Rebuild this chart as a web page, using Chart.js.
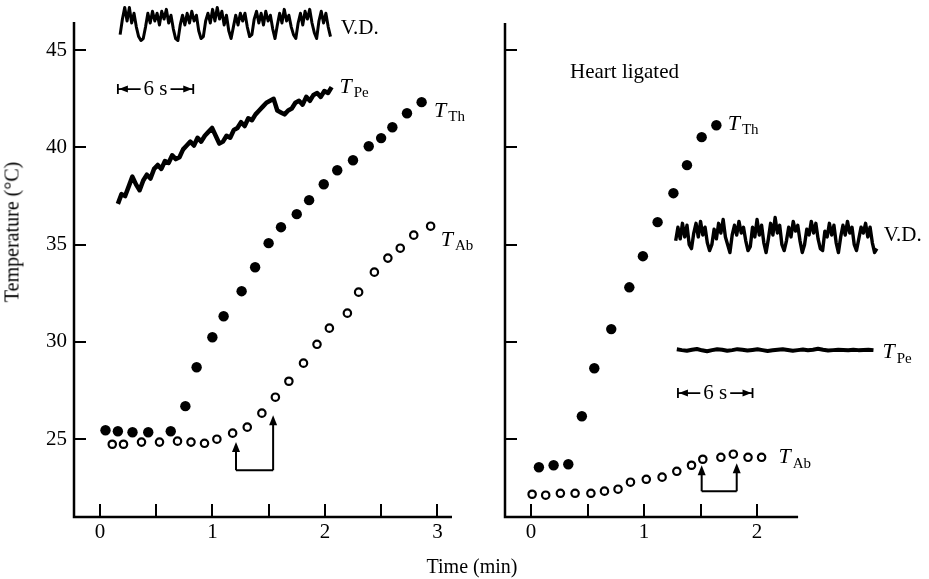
<!DOCTYPE html>
<html>
<head>
<meta charset="utf-8">
<title>Thoracic and abdominal temperature</title>
<script src="https://cdn.jsdelivr.net/npm/chart.js@4.4.1/dist/chart.umd.min.js"></script>
<style>
  body { margin: 0; background: #fff; width: 929px; height: 579px; position: relative; overflow: hidden; font-family: "Liberation Serif", serif; color: #000; }
  #left { position: absolute; left: 0; top: 0; }
  #right { position: absolute; left: 480px; top: 0; }
  .ytitle { position: absolute; left: 12px; top: 232px; transform: translate(-50%, -50%) rotate(-90deg); font-size: 20px; white-space: nowrap; }
  .xtitle { position: absolute; left: 472px; top: 566px; transform: translate(-50%, -50%); font-size: 20px; white-space: nowrap; }
</style>
</head>
<body>
<canvas id="left" width="480" height="579"></canvas>
<canvas id="right" width="449" height="579"></canvas>
<div class="ytitle">Temperature (°C)</div>
<div class="xtitle">Time (min)</div>
<script>
// ---- left panel: intact bee ----
const leftThX = [0.05, 0.16, 0.29, 0.43, 0.63, 0.76, 0.86, 1.00, 1.10, 1.26, 1.38, 1.50, 1.61, 1.75, 1.86, 1.99, 2.11, 2.25, 2.39, 2.50, 2.60, 2.73, 2.86];
const leftThY = [25.46, 25.41, 25.36, 25.36, 25.41, 26.70, 28.70, 30.24, 31.32, 32.61, 33.84, 35.08, 35.90, 36.57, 37.29, 38.11, 38.83, 39.34, 40.06, 40.48, 41.04, 41.76, 42.33];
const leftAbX = [0.11, 0.21, 0.37, 0.53, 0.69, 0.81, 0.93, 1.04, 1.18, 1.31, 1.44, 1.56, 1.68, 1.81, 1.93, 2.04, 2.20, 2.30, 2.44, 2.56, 2.67, 2.79, 2.94];
const leftAbY = [24.74, 24.74, 24.85, 24.85, 24.90, 24.85, 24.79, 25.00, 25.31, 25.62, 26.34, 27.16, 27.98, 28.91, 29.88, 30.71, 31.48, 32.56, 33.59, 34.31, 34.82, 35.49, 35.95];

// fast recordings (6 s scale bar), sampled evenly between the given x limits
const leftVdSpan = [0.18, 2.05];
const leftVd = [45.8, 46.6, 47.2, 46.5, 47.2, 46.4, 46.9, 46.2, 45.7, 45.5, 45.6, 46.2,
  46.9, 46.4, 47.0, 46.5, 46.9, 46.3, 47.0, 46.6, 47.1, 46.4, 46.8, 46.1, 45.6, 45.5,
  46.3, 46.8, 46.3, 46.9, 46.4, 47.0, 46.5, 46.8, 46.0, 45.6, 45.7,
  46.5, 46.9, 46.4, 47.1, 46.5, 47.2, 46.6, 47.0, 46.3, 46.8, 46.0, 45.6,
  46.2, 46.8, 46.3, 46.9, 46.5, 46.9, 46.2, 45.7, 45.8,
  46.6, 47.0, 46.4, 46.9, 46.3, 47.0, 46.5, 46.8, 46.1, 45.6,
  46.3, 46.9, 46.4, 47.1, 46.5, 46.8, 46.2, 45.8, 45.6,
  46.4, 46.9, 46.3, 47.0, 46.6, 47.1, 46.4, 45.9, 45.6,
  46.5, 47.0, 46.4, 46.9, 46.2, 45.7];
const leftPeSpan = [0.16, 2.06];
const leftPe = [37.1, 37.6, 37.5, 38.0, 38.5, 38.1, 37.8, 38.3, 38.6, 38.4, 38.9, 39.1, 38.9, 39.3, 39.2, 39.6, 39.4, 39.5, 39.9, 40.1,
  40.3, 40.1, 40.5, 40.3, 40.6, 40.8, 41.0, 40.6, 40.2, 40.3, 40.6, 40.5, 40.9, 41.0, 41.3, 41.1, 41.5, 41.4, 41.7, 41.9,
  42.1, 42.3, 42.4, 42.5, 41.9, 41.8, 41.7, 41.9, 42.0, 42.3, 42.4, 42.2, 42.6, 42.4, 42.7, 42.8, 42.6, 42.9, 42.8, 43.1];

// ---- right panel: heart ligated ----
const rightThX = [0.07, 0.20, 0.33, 0.45, 0.56, 0.71, 0.87, 0.99, 1.12, 1.26, 1.38, 1.51, 1.64];
const rightThY = [23.56, 23.66, 23.71, 26.18, 28.65, 30.66, 32.81, 34.41, 36.16, 37.65, 39.09, 40.53, 41.14];
const rightAbX = [0.01, 0.13, 0.26, 0.39, 0.53, 0.65, 0.77, 0.88, 1.02, 1.16, 1.29, 1.42, 1.52, 1.68, 1.79, 1.92, 2.04];
const rightAbY = [22.17, 22.12, 22.22, 22.22, 22.22, 22.33, 22.43, 22.79, 22.94, 23.05, 23.35, 23.66, 23.97, 24.07, 24.23, 24.07, 24.07];

const rightVdSpan = [1.28, 3.06];
const rightVd = [35.2, 35.9, 35.3, 36.1, 35.4, 36.0, 35.0, 34.8, 35.6,
  36.1, 35.4, 36.2, 35.5, 35.9, 35.1, 34.7, 35.0,
  35.8, 35.3, 36.1, 35.6, 36.3, 35.4, 35.0, 34.6, 35.5,
  36.0, 35.5, 36.2, 35.6, 35.9, 35.2, 34.7, 34.9,
  35.9, 35.4, 36.3, 35.5, 36.0, 35.1, 34.6, 35.3,
  36.1, 35.5, 36.4, 35.6, 36.0, 35.0, 34.7, 35.2,
  35.9, 35.4, 36.2, 35.7, 36.0, 35.2, 34.6, 35.0,
  35.8, 35.5, 36.2, 35.6, 36.1, 35.3, 34.8, 34.7,
  35.7, 35.4, 36.1, 35.5, 36.0, 35.1, 34.6, 35.4,
  36.0, 35.5, 36.2, 35.6, 35.9, 35.0, 34.7, 35.3,
  35.9, 35.6, 36.1, 35.4, 35.9, 35.1, 34.6, 34.8];
const rightPeSpan = [1.29, 3.03];
const rightPe = [29.62, 29.58, 29.55, 29.60, 29.64, 29.57, 29.52, 29.58, 29.62, 29.60, 29.55, 29.58, 29.63, 29.60, 29.56, 29.59, 29.62, 29.58, 29.54, 29.57,
  29.60, 29.63, 29.59, 29.55, 29.58, 29.61, 29.57, 29.60, 29.65, 29.60, 29.56, 29.58, 29.60, 29.59, 29.57, 29.60, 29.58, 29.59, 29.60, 29.58];

// ---- axes ----
const tempTicks = [25, 30, 35, 40, 45];
const leftTimeTicks = [0, 1, 2, 3];
const leftTimeMinor = [0.5, 1.5, 2.5];
const rightTimeTicks = [0, 1, 2];
const rightTimeMinor = [0.5, 1.5];

const FONT = '"Liberation Serif", "Times New Roman", serif';

function pairs(xs, ys) {
  return xs.map((x, i) => ({ x: x, y: ys[i] }));
}
function trace(span, ys) {
  const step = (span[1] - span[0]) / (ys.length - 1);
  return ys.map((y, i) => ({ x: span[0] + i * step, y: y }));
}

function filled(data) {
  return { type: 'scatter', data: data, pointRadius: 5.2, pointBackgroundColor: '#000', pointBorderWidth: 0, clip: false };
}
function hollow(data) {
  return { type: 'scatter', data: data, pointRadius: 3.7, pointBackgroundColor: '#fff', pointBorderColor: '#000', pointBorderWidth: 2.2, clip: false };
}
function line(data, width) {
  return { type: 'line', data: data, borderColor: '#000', borderWidth: width, borderJoinStyle: 'round', pointRadius: 0, tension: 0, clip: false };
}

function drawArrowHead(ctx, x, y) {
  ctx.beginPath();
  ctx.moveTo(x, y);
  ctx.lineTo(x - 4, y + 10);
  ctx.lineTo(x + 4, y + 10);
  ctx.closePath();
  ctx.fill();
}

const inkPlugin = {
  id: 'ink',
  afterDraw(chart) {
    const o = chart.options.plugins.ink;
    const ctx = chart.ctx, xs = chart.scales.x, ys = chart.scales.y, a = chart.chartArea;
    ctx.save();
    ctx.strokeStyle = '#000';
    ctx.fillStyle = '#000';
    ctx.lineCap = 'butt';

    // axis lines (the time axis stops at its own end value)
    const xEnd = xs.getPixelForValue(o.xAxisEnd);
    ctx.lineWidth = 2.5;
    ctx.beginPath();
    ctx.moveTo(a.left, a.top);
    ctx.lineTo(a.left, a.bottom);
    ctx.lineTo(xEnd, a.bottom);
    ctx.stroke();

    // inward tick marks
    ctx.lineWidth = 2;
    ctx.beginPath();
    o.yTicks.forEach(v => {
      const py = Math.round(ys.getPixelForValue(v));
      ctx.moveTo(a.left, py);
      ctx.lineTo(a.left + 12, py);
    });
    o.xTicks.forEach(v => {
      const px = Math.round(xs.getPixelForValue(v));
      ctx.moveTo(px, a.bottom);
      ctx.lineTo(px, a.bottom - 13);
    });
    ctx.stroke();

    // stimulus arrows joined at the base
    const ar = o.arrows;
    const baseY = ys.getPixelForValue(ar.base);
    const ax = ar.x.map(v => xs.getPixelForValue(v));
    ctx.lineWidth = 2;
    ctx.beginPath();
    ax.forEach((px, i) => {
      ctx.moveTo(px, baseY);
      ctx.lineTo(px, ys.getPixelForValue(ar.tips[i]) + 8);
    });
    ctx.moveTo(ax[0], baseY);
    ctx.lineTo(ax[ax.length - 1], baseY);
    ctx.stroke();
    ax.forEach((px, i) => drawArrowHead(ctx, px, ys.getPixelForValue(ar.tips[i])));

    // 6 s scale bar
    const b = o.bar;
    const bx1 = xs.getPixelForValue(b.x1), bx2 = xs.getPixelForValue(b.x2), by = ys.getPixelForValue(b.y);
    ctx.font = '21px ' + FONT;
    ctx.textAlign = 'center';
    ctx.textBaseline = 'middle';
    const mid = (bx1 + bx2) / 2;
    const tw = ctx.measureText('6 s').width;
    ctx.fillText('6 s', mid, by);
    ctx.lineWidth = 1.8;
    ctx.beginPath();
    ctx.moveTo(bx1, by - 5); ctx.lineTo(bx1, by + 5);
    ctx.moveTo(bx2, by - 5); ctx.lineTo(bx2, by + 5);
    ctx.moveTo(bx1, by); ctx.lineTo(mid - tw / 2 - 3, by);
    ctx.moveTo(mid + tw / 2 + 3, by); ctx.lineTo(bx2, by);
    ctx.stroke();
    ctx.beginPath();
    ctx.moveTo(bx1 + 1, by); ctx.lineTo(bx1 + 10, by - 3.5); ctx.lineTo(bx1 + 10, by + 3.5); ctx.closePath();
    ctx.moveTo(bx2 - 1, by); ctx.lineTo(bx2 - 10, by - 3.5); ctx.lineTo(bx2 - 10, by + 3.5); ctx.closePath();
    ctx.fill();

    // curve labels
    ctx.textAlign = 'left';
    ctx.textBaseline = 'middle';
    o.labels.forEach(l => {
      const px = xs.getPixelForValue(l.x), py = ys.getPixelForValue(l.y);
      if (l.sub) {
        ctx.font = 'italic 22px ' + FONT;
        ctx.fillText(l.text, px, py);
        const w = ctx.measureText(l.text).width;
        ctx.font = '15px ' + FONT;
        ctx.fillText(l.sub, px + w + 2, py + 6);
      } else {
        ctx.font = '21px ' + FONT;
        ctx.fillText(l.text, px, py);
      }
    });
    ctx.restore();
  }
};

function makeScales(xMin, xMax, xTicks, yMax, yWidth, showY) {
  return {
    x: {
      type: 'linear', min: xMin, max: xMax,
      grid: { display: false, drawTicks: false }, border: { display: false },
      ticks: { color: '#000', font: { family: FONT, size: 21 }, padding: 3, maxRotation: 0 },
      afterBuildTicks: s => { s.ticks = xTicks.map(v => ({ value: v })); },
      afterFit: s => { s.height = 62; }
    },
    y: {
      type: 'linear', min: 21, max: yMax,
      grid: { display: false, drawTicks: false }, border: { display: false },
      ticks: { display: showY, color: '#000', font: { family: FONT, size: 21 }, padding: 7 },
      afterBuildTicks: s => { s.ticks = tempTicks.map(v => ({ value: v })); },
      afterFit: s => { s.width = yWidth; }
    }
  };
}

const common = {
  responsive: false,
  animation: false,
  devicePixelRatio: 1,
  events: []
};

new Chart(document.getElementById('left'), {
  type: 'scatter',
  data: {
    datasets: [
      line(trace(leftVdSpan, leftVd), 3),
      line(trace(leftPeSpan, leftPe), 4.5),
      filled(pairs(leftThX, leftThY)),
      hollow(pairs(leftAbX, leftAbY))
    ]
  },
  options: Object.assign({}, common, {
    layout: { padding: { top: 22, right: 28, left: 0, bottom: 0 } },
    scales: makeScales(-0.23, 3.13, leftTimeTicks, 46.45, 74, true),
    plugins: {
      legend: { display: false },
      tooltip: { enabled: false },
      ink: {
        xAxisEnd: 3.13,
        yTicks: tempTicks,
        xTicks: leftTimeTicks.concat(leftTimeMinor),
        arrows: { x: [1.21, 1.54], base: 23.41, tips: [24.85, 26.23] },
        bar: { x1: 0.16, x2: 0.83, y: 43.0 },
        labels: [
          { x: 2.14, y: 46.13, text: 'V.D.' },
          { x: 2.13, y: 43.1, text: 'T', sub: 'Pe' },
          { x: 2.97, y: 41.85, text: 'T', sub: 'Th' },
          { x: 3.03, y: 35.25, text: 'T', sub: 'Ab' }
        ]
      }
    }
  }),
  plugins: [inkPlugin]
});

// the time scale runs past the drawn axis so the fast traces to its right stay visible
new Chart(document.getElementById('right'), {
  type: 'scatter',
  data: {
    datasets: [
      line(trace(rightVdSpan, rightVd), 3.4),
      line(trace(rightPeSpan, rightPe), 4),
      filled(pairs(rightThX, rightThY)),
      hollow(pairs(rightAbX, rightAbY))
    ]
  },
  options: Object.assign({}, common, {
    layout: { padding: { top: 23, right: 25, left: 0, bottom: 0 } },
    scales: makeScales(-0.23, 3.30, rightTimeTicks, 46.4, 25, false),
    plugins: {
      legend: { display: false },
      tooltip: { enabled: false },
      ink: {
        xAxisEnd: 2.363,
        yTicks: tempTicks,
        xTicks: rightTimeTicks.concat(rightTimeMinor),
        arrows: { x: [1.51, 1.82], base: 22.33, tips: [23.66, 23.77] },
        bar: { x1: 1.30, x2: 1.96, y: 27.37 },
        labels: [
          { x: 0.345, y: 43.87, text: 'Heart ligated' },
          { x: 1.74, y: 41.2, text: 'T', sub: 'Th' },
          { x: 3.12, y: 35.45, text: 'V.D.' },
          { x: 3.11, y: 29.45, text: 'T', sub: 'Pe' },
          { x: 2.19, y: 24.05, text: 'T', sub: 'Ab' }
        ]
      }
    }
  }),
  plugins: [inkPlugin]
});
</script>
</body>
</html>
